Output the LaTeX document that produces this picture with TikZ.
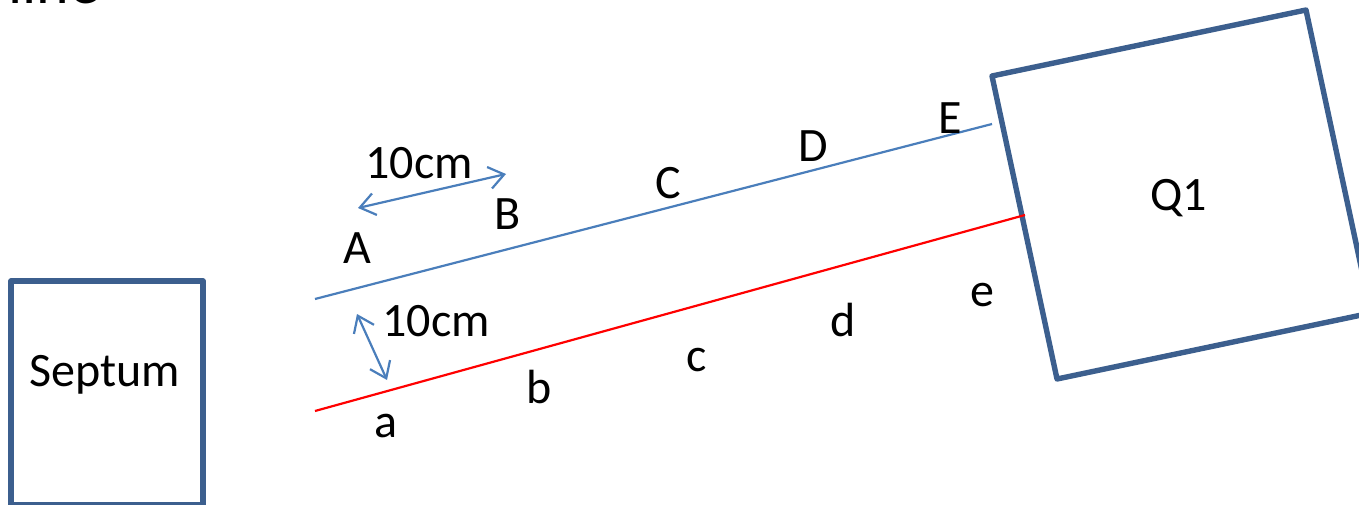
\documentclass[tikz,border=0pt]{standalone}
\usepackage{fontspec}
\setmainfont{Carlito}
\definecolor{boxblue}{HTML}{3C5F8E}
\definecolor{lineblue}{HTML}{4A7EBB}
\usetikzlibrary{arrows.meta}
\tikzset{
  boxline/.style={draw=boxblue,line width=5.4pt,line join=round},
  lab/.style={font=\fontsize{48}{52}\selectfont,text=black,inner sep=0pt,anchor=base},
  beam/.style={line width=2.2pt},
  dim/.style={draw=lineblue,line width=2.2pt,{Straight Barb[length=15pt,width=22pt,line width=2.2pt]}-{Straight Barb[length=15pt,width=22pt,line width=2.2pt]}}
}
\begin{document}
\begin{tikzpicture}[x=1pt,y=-1pt]
\useasboundingbox (0,0) rectangle (1359,505);
\clip (0,0) rectangle (1359,505);
\draw[boxline] (11,281) rectangle (203,504.5);
\draw[boxline] (992,76) -- (1306,10) -- (1371,313) -- (1057,379) -- cycle;
\coordinate (bs) at (315,299);
\coordinate (be) at (992,124);
\coordinate (rs) at (315,411);
\coordinate (re) at (1025,215);
\draw[beam,draw=lineblue] (bs) -- (be);
\draw[beam,draw=red] (rs) -- (re);
\coordinate (d1a) at (358,208);
\coordinate (d1b) at (506,174);
\coordinate (d2a) at (357,314);
\coordinate (d2b) at (387,380);
\draw[dim] (d1a) -- (d1b);
\draw[dim] (d2a) -- (d2b);
\node[lab] (septum) at (105,386) {Septum};
\node[lab] (q1) at (1178.5,211) {Q1};
\node[lab] (dima) at (419,178.5) {10cm};
\node[lab] (dimb) at (436,336.5) {10cm};
\node[lab] (A) at (357,263.5) {A};
\node[lab] (B) at (508,229) {B};
\node[lab] (C) at (668,198.5) {C};
\node[lab] (D) at (813.5,162) {D};
\node[lab] (E) at (950,134) {E};
\node[lab] (a) at (386,437.5) {a};
\node[lab] (b) at (539.5,403) {b};
\node[lab] (c) at (697,371.5) {c};
\node[lab] (d) at (843,336.5) {d};
\node[lab] (e) at (982,306.5) {e};
\node[lab,font=\fontsize{62}{66}\selectfont] (top) at (54,4) {line};
\end{tikzpicture}
\end{document}
